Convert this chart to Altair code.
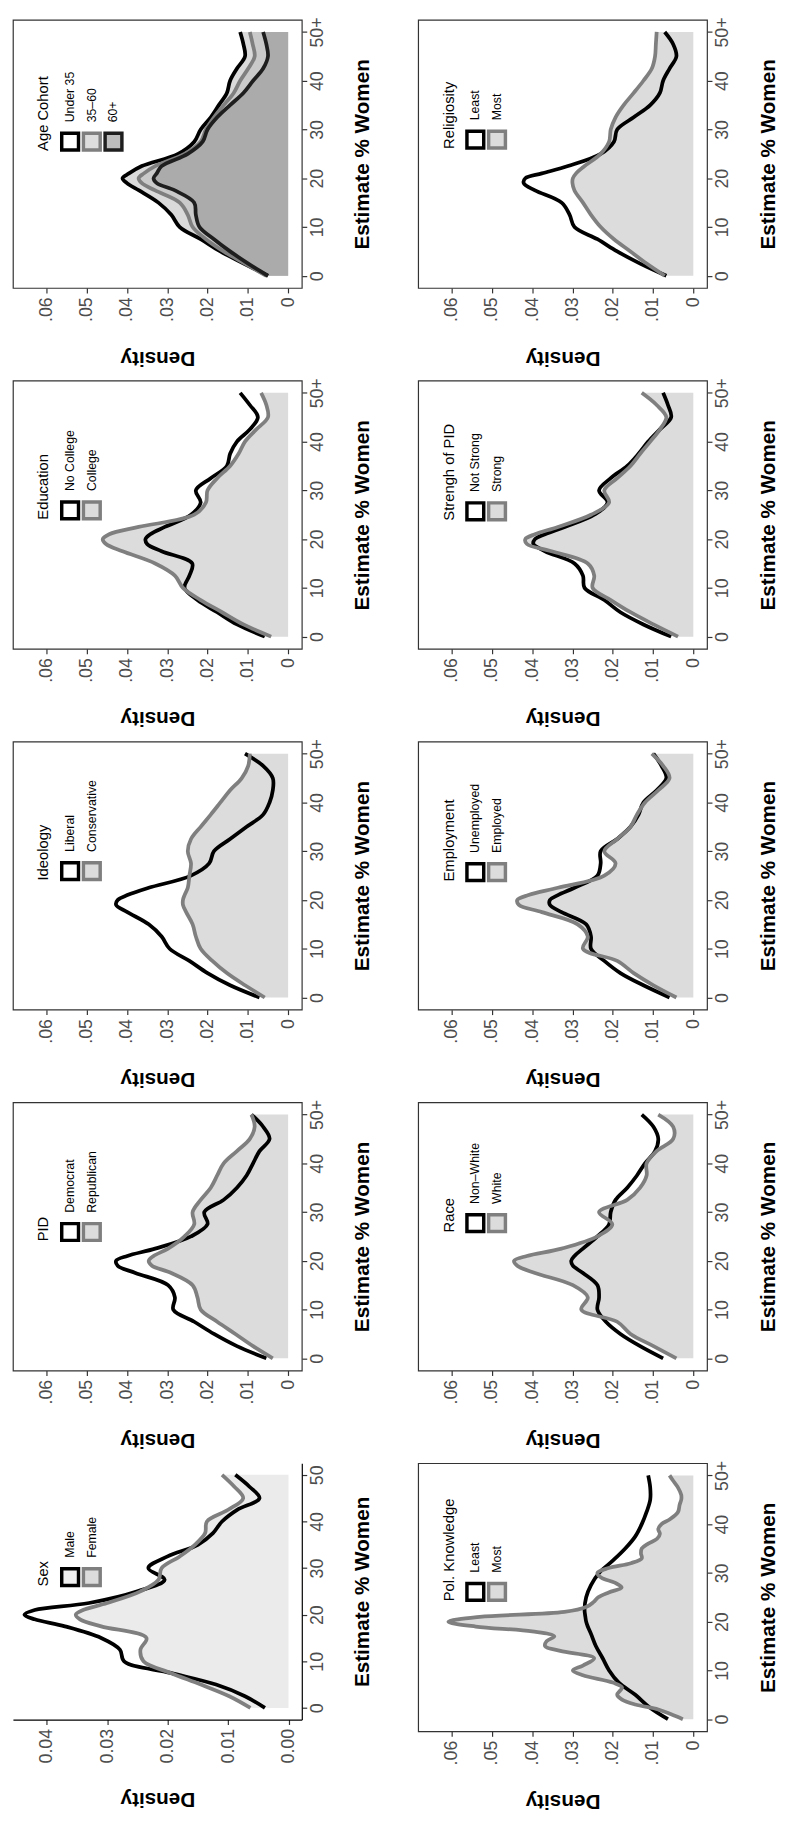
import altair as alt
import pandas as pd

FONT = "Liberation Sans"
BLACK = "#000000"
GRAY = "#7f7f7f"

# Estimate % Women grid (shared by most series)
EST = [0, 2.5, 5, 7.5, 10, 12.5, 15, 17.5, 19, 20, 21, 22.5, 25, 27.5, 30,
       32.5, 35, 37.5, 40, 42.5, 45, 47.5, 50]
# finer grid for the very wiggly "Most" knowledge curve
EST_FINE = [0, 1, 2, 3, 4, 5, 6.5, 7.5, 9, 10, 11, 12.5, 14, 15, 16, 17, 18, 19,
            20, 21, 22, 23, 24, 25, 26, 27, 28, 29, 30, 31, 32, 33, 34, 35, 36,
            37, 38, 39, 40, 41, 42.5, 44, 45, 46, 47.5, 49, 50]

SEX_MALE = [0.0039, 0.0072, 0.0120, 0.0195, 0.0272, 0.0279, 0.0310, 0.0370, 0.0420, 0.0437, 0.0420, 0.0330,
            0.0250, 0.0205, 0.0232, 0.0200, 0.0150, 0.0125, 0.0110, 0.0085, 0.0048, 0.0065, 0.0088]
SEX_FEMALE = [0.0063, 0.0098, 0.0145, 0.0195, 0.0240, 0.0245, 0.0235, 0.0310, 0.0345, 0.0352, 0.0340, 0.0300,
              0.0245, 0.0215, 0.0210, 0.0180, 0.0155, 0.0138, 0.0135, 0.0100, 0.0075, 0.0090, 0.0110]

POLK_LEAST = [0.0063, 0.0110, 0.0144, 0.0185, 0.0209, 0.0225, 0.0242, 0.0254, 0.0262, 0.0266, 0.0268, 0.0270,
              0.0266, 0.0254, 0.0234, 0.0200, 0.0169, 0.0144, 0.0128, 0.0116, 0.0107, 0.0107, 0.0112]
POLK_MOST = [0.0026, 0.0055, 0.0087, 0.0144, 0.0177, 0.0189, 0.0177, 0.0200, 0.0274, 0.0299, 0.0274, 0.0246,
             0.0330, 0.0368, 0.0364, 0.0345, 0.0400, 0.0540, 0.0608, 0.0530, 0.0320, 0.0266, 0.0248, 0.0236,
             0.0210, 0.0178, 0.0195, 0.0228, 0.0238, 0.0210, 0.0155, 0.0128, 0.0130, 0.0128, 0.0112, 0.0090,
             0.0083, 0.0087, 0.0079, 0.0058, 0.0038, 0.0034, 0.0030, 0.0030, 0.0038, 0.0051, 0.0059]

AGE_U35 = [0.0050, 0.0110, 0.0168, 0.0217, 0.0269, 0.0290, 0.0322, 0.0370, 0.0400, 0.0411, 0.0395, 0.0363,
           0.0273, 0.0233, 0.0217, 0.0192, 0.0172, 0.0152, 0.0144, 0.0127, 0.0107, 0.0111, 0.0119]
AGE_35_60 = [0.0054, 0.0107, 0.0160, 0.0204, 0.0237, 0.0249, 0.0269, 0.0330, 0.0363, 0.0371, 0.0358, 0.0330,
             0.0257, 0.0217, 0.0204, 0.0184, 0.0160, 0.0135, 0.0119, 0.0099, 0.0083, 0.0088, 0.0095]
AGE_60P = [0.0050, 0.0099, 0.0144, 0.0184, 0.0220, 0.0229, 0.0233, 0.0281, 0.0326, 0.0334, 0.0326, 0.0314,
           0.0249, 0.0212, 0.0200, 0.0176, 0.0144, 0.0111, 0.0087, 0.0062, 0.0050, 0.0054, 0.0062]

RELIG_LEAST = [0.0067, 0.0132, 0.0189, 0.0238, 0.0295, 0.0307, 0.0327, 0.0393, 0.0421, 0.0417, 0.0376, 0.0311,
               0.0230, 0.0197, 0.0189, 0.0148, 0.0107, 0.0083, 0.0075, 0.0059, 0.0042, 0.0050, 0.0071]
RELIG_MOST = [0.0071, 0.0116, 0.0156, 0.0197, 0.0230, 0.0254, 0.0274, 0.0295, 0.0300, 0.0299, 0.0291, 0.0270,
              0.0230, 0.0209, 0.0205, 0.0193, 0.0173, 0.0148, 0.0124, 0.0103, 0.0095, 0.0093, 0.0091]

EDUC_NOCOL = [0.0058, 0.0127, 0.0176, 0.0225, 0.0257, 0.0245, 0.0238, 0.0314, 0.0350, 0.0354, 0.0342, 0.0306,
              0.0241, 0.0217, 0.0229, 0.0192, 0.0152, 0.0144, 0.0127, 0.0095, 0.0075, 0.0095, 0.0119]
EDUC_COL = [0.0042, 0.0111, 0.0164, 0.0217, 0.0261, 0.0281, 0.0330, 0.0411, 0.0452, 0.0460, 0.0444, 0.0371,
            0.0233, 0.0204, 0.0200, 0.0176, 0.0144, 0.0123, 0.0107, 0.0079, 0.0050, 0.0054, 0.0067]

STR_NOT = [0.0055, 0.0124, 0.0181, 0.0221, 0.0270, 0.0274, 0.0295, 0.0368, 0.0397, 0.0393, 0.0368, 0.0319,
           0.0246, 0.0213, 0.0234, 0.0205, 0.0164, 0.0136, 0.0112, 0.0083, 0.0055, 0.0063, 0.0075]
STR_STRONG = [0.0038, 0.0099, 0.0156, 0.0205, 0.0250, 0.0246, 0.0262, 0.0352, 0.0413, 0.0417, 0.0393, 0.0336,
              0.0254, 0.0209, 0.0221, 0.0189, 0.0156, 0.0132, 0.0107, 0.0083, 0.0067, 0.0091, 0.0128]

IDEO_LIB = [0.0071, 0.0144, 0.0200, 0.0245, 0.0294, 0.0314, 0.0346, 0.0399, 0.0427, 0.0423, 0.0399, 0.0346,
            0.0241, 0.0196, 0.0184, 0.0144, 0.0103, 0.0062, 0.0046, 0.0038, 0.0038, 0.0062, 0.0107]
IDEO_CON = [0.0058, 0.0107, 0.0152, 0.0188, 0.0217, 0.0229, 0.0237, 0.0253, 0.0261, 0.0261, 0.0257, 0.0249,
            0.0245, 0.0241, 0.0249, 0.0241, 0.0217, 0.0192, 0.0168, 0.0144, 0.0115, 0.0099, 0.0095]

EMP_UN = [0.0059, 0.0124, 0.0181, 0.0221, 0.0254, 0.0254, 0.0266, 0.0327, 0.0356, 0.0356, 0.0336, 0.0295,
          0.0238, 0.0230, 0.0230, 0.0189, 0.0156, 0.0136, 0.0124, 0.0091, 0.0067, 0.0079, 0.0099]
EMP_EM = [0.0042, 0.0099, 0.0148, 0.0189, 0.0274, 0.0262, 0.0287, 0.0376, 0.0433, 0.0437, 0.0409, 0.0336,
          0.0221, 0.0193, 0.0221, 0.0189, 0.0156, 0.0140, 0.0120, 0.0087, 0.0059, 0.0075, 0.0103]

PID_DEM = [0.0054, 0.0127, 0.0184, 0.0233, 0.0285, 0.0281, 0.0298, 0.0379, 0.0423, 0.0427, 0.0399, 0.0330,
           0.0241, 0.0200, 0.0208, 0.0160, 0.0127, 0.0103, 0.0087, 0.0071, 0.0046, 0.0062, 0.0091]
PID_REP = [0.0038, 0.0087, 0.0131, 0.0176, 0.0217, 0.0225, 0.0237, 0.0290, 0.0338, 0.0346, 0.0334, 0.0298,
           0.0257, 0.0233, 0.0237, 0.0217, 0.0192, 0.0176, 0.0160, 0.0127, 0.0095, 0.0083, 0.0091]

RACE_NW = [0.0075, 0.0132, 0.0181, 0.0217, 0.0238, 0.0234, 0.0238, 0.0274, 0.0299, 0.0303, 0.0295, 0.0274,
           0.0238, 0.0209, 0.0205, 0.0193, 0.0164, 0.0140, 0.0120, 0.0095, 0.0087, 0.0099, 0.0128]
RACE_W = [0.0042, 0.0099, 0.0156, 0.0189, 0.0278, 0.0262, 0.0299, 0.0393, 0.0437, 0.0445, 0.0413, 0.0327,
          0.0238, 0.0201, 0.0234, 0.0164, 0.0132, 0.0116, 0.0116, 0.0091, 0.0050, 0.0050, 0.0087]

PANEL_W = 293
EST_DOMAIN = [-2.5, 52.5]


def panel(title, labels, series, grids, line_colors, area_fills, key_strokes, key_fills,
          key_bottom, sex=False):
    h = 260 if sex else 272
    if sex:
        xdom = [-0.0022, 0.0456]
        xvals = [0, 0.01, 0.02, 0.03, 0.04]
        xexpr = "format(datum.value, '.2f')"
        yexpr = "datum.label"
    else:
        xdom = [-0.0034, 0.0683]
        xvals = [0, 0.01, 0.02, 0.03, 0.04, 0.05, 0.06]
        xexpr = "datum.value == 0 ? '0' : replace(format(datum.value, '.2f'), '0.', '.')"
        yexpr = "datum.value == 50 ? '50+' : datum.label"

    xscale = alt.Scale(domain=xdom, reverse=True, nice=False, zero=False)
    yscale = alt.Scale(domain=EST_DOMAIN, nice=False, zero=False)
    X = alt.X("dens:Q", scale=xscale,
              axis=alt.Axis(values=xvals, labelExpr=xexpr, title="Density", orient="bottom",
                            labelAngle=270, labelAlign="right", labelBaseline="middle",
                            labelPadding=4, tickSize=5, titleAngle=180, titleBaseline="bottom",
                            titlePadding=26, grid=False, domain=sex, labelOverlap=False))
    Y = alt.Y("est:Q", scale=yscale,
              axis=alt.Axis(values=[0, 10, 20, 30, 40, 50], labelExpr=yexpr,
                            title="Estimate % Women", orient="right", labelAngle=270,
                            labelAlign="center", labelBaseline="top", labelPadding=2,
                            tickSize=5, titleAngle=270, titleBaseline="top", titlePadding=26,
                            grid=False, domain=sex, labelOverlap=False))

    areas, lines = [], []
    for vals, grid, lc, af, lab in zip(series, grids, line_colors, area_fills, labels):
        df = pd.DataFrame({"est": grid, "dens": vals, "base": [0.0] * len(grid), "grp": lab})
        if af != "none":
            areas.append(
                alt.Chart(df).mark_area(orient="horizontal", interpolate="catmull-rom",
                                        fill=af, fillOpacity=1, strokeWidth=0)
                .encode(x=X, x2=alt.X2("base:Q"), y=Y))
        lines.append(
            alt.Chart(df).mark_line(interpolate="catmull-rom", strokeWidth=3.8, color=lc)
            .encode(x=X, y=Y, order="est:Q"))

    # legend, placed in the panel's own data units
    def dx(px):
        return xdom[1] - px / PANEL_W * (xdom[1] - xdom[0])

    def dy(py):
        return EST_DOMAIN[1] - py / h * (EST_DOMAIN[1] - EST_DOMAIN[0])

    n = len(labels)
    keys = pd.DataFrame({
        "dens": [dx(58 + 22 * i) for i in range(n)],
        "est": [dy(key_bottom - 10.5)] * n,
        "ly": [dy(key_bottom - 30)] * n,
        "lab": labels,
        "kstroke": key_strokes,
        "kfill": key_fills,
    })
    squares = alt.Chart(keys).mark_square(size=290, strokeWidth=3.5, opacity=1,
                                          fillOpacity=1, strokeOpacity=1).encode(
        x=X, y=Y,
        stroke=alt.Stroke("kstroke:N", scale=None),
        fill=alt.Fill("kfill:N", scale=None))
    ktext = alt.Chart(keys).mark_text(angle=270, align="left", baseline="middle",
                                      font=FONT, fontSize=12.5, color="#000000").encode(
        x=X, y=alt.Y("ly:Q", scale=yscale),
        text="lab:N")
    tdf = pd.DataFrame({"dens": [dx(31)], "est": [dy(key_bottom - 1)], "t": [title]})
    ttext = alt.Chart(tdf).mark_text(angle=270, align="left", baseline="middle",
                                     font=FONT, fontSize=15, color="#000000").encode(
        x=X, y=Y,
        text="t:N")

    ch = alt.layer(*areas, *lines, squares, ktext, ttext)
    if sex:
        ch = ch.properties(width=PANEL_W, height=h)
    else:
        ch = ch.properties(width=PANEL_W, height=h,
                           view=alt.ViewBackground(stroke="#333333", strokeWidth=1.2))
    return ch


two_lines = [BLACK, GRAY]
two_fills = ["none", "#dcdcdc"]
two_kstroke = [BLACK, GRAY]
two_kfill = ["#ffffff", "#dcdcdc"]

age = panel("Age Cohort", ["Under 35", "35–60", "60+"], [AGE_U35, AGE_35_60, AGE_60P],
            [EST, EST, EST], [BLACK, GRAY, "#1e1e1e"], ["#dadada", "#cacaca", "#ababab"],
            [BLACK, GRAY, "#1e1e1e"], ["#ffffff", "#dddddd", "#bdbdbd"], 134)
relig = panel("Religiosity", ["Least", "Most"], [RELIG_LEAST, RELIG_MOST], [EST, EST],
              two_lines, two_fills, two_kstroke, two_kfill, 132)
educ = panel("Education", ["No College", "College"], [EDUC_NOCOL, EDUC_COL], [EST, EST],
             two_lines, two_fills, two_kstroke, two_kfill, 142)
strength = panel("Strengh of PID", ["Not Strong", "Strong"], [STR_NOT, STR_STRONG], [EST, EST],
                 two_lines, two_fills, two_kstroke, two_kfill, 143)
ideo = panel("Ideology", ["Liberal", "Conservative"], [IDEO_LIB, IDEO_CON], [EST, EST],
             two_lines, two_fills, two_kstroke, two_kfill, 142)
emp = panel("Employment", ["Unemployed", "Employed"], [EMP_UN, EMP_EM], [EST, EST],
            two_lines, two_fills, two_kstroke, two_kfill, 143)
pid = panel("PID", ["Democrat", "Republican"], [PID_DEM, PID_REP], [EST, EST],
            two_lines, two_fills, two_kstroke, two_kfill, 142)
race = panel("Race", ["Non–White", "White"], [RACE_NW, RACE_W], [EST, EST],
             two_lines, two_fills, two_kstroke, two_kfill, 133)
sex = panel("Sex", ["Male", "Female"], [SEX_MALE, SEX_FEMALE], [EST, EST],
            two_lines, ["none", "#ebebeb"], two_kstroke, ["#f0f0f0", "#dcdcdc"], 126, sex=True)
polk = panel("Pol. Knowledge", ["Least", "Most"], [POLK_LEAST, POLK_MOST], [EST, EST_FINE],
             two_lines, two_fills, two_kstroke, two_kfill, 141)

H_SPACE = 44
rows = [
    alt.hconcat(age, relig, spacing=H_SPACE),
    alt.hconcat(educ, strength, spacing=H_SPACE),
    alt.hconcat(ideo, emp, spacing=H_SPACE),
    alt.hconcat(pid, race, spacing=H_SPACE),
    alt.hconcat(sex, polk, spacing=H_SPACE),
]

chart = alt.vconcat(*rows, spacing=8).properties(
    padding={"left": 4, "top": -5, "right": 0, "bottom": 0}
).configure(font=FONT).configure_view(stroke="transparent").configure_axis(
    labelFont=FONT, titleFont=FONT, labelColor="#4d4d4d", labelFontSize=18,
    titleFontSize=21, titleFontWeight="bold", titleColor="#000000",
    tickColor="#333333", domainColor="#000000", domainWidth=1.2, tickWidth=1.2, grid=False
)

chart.save("out.html", embed_options={"renderer": "svg", "actions": False})
